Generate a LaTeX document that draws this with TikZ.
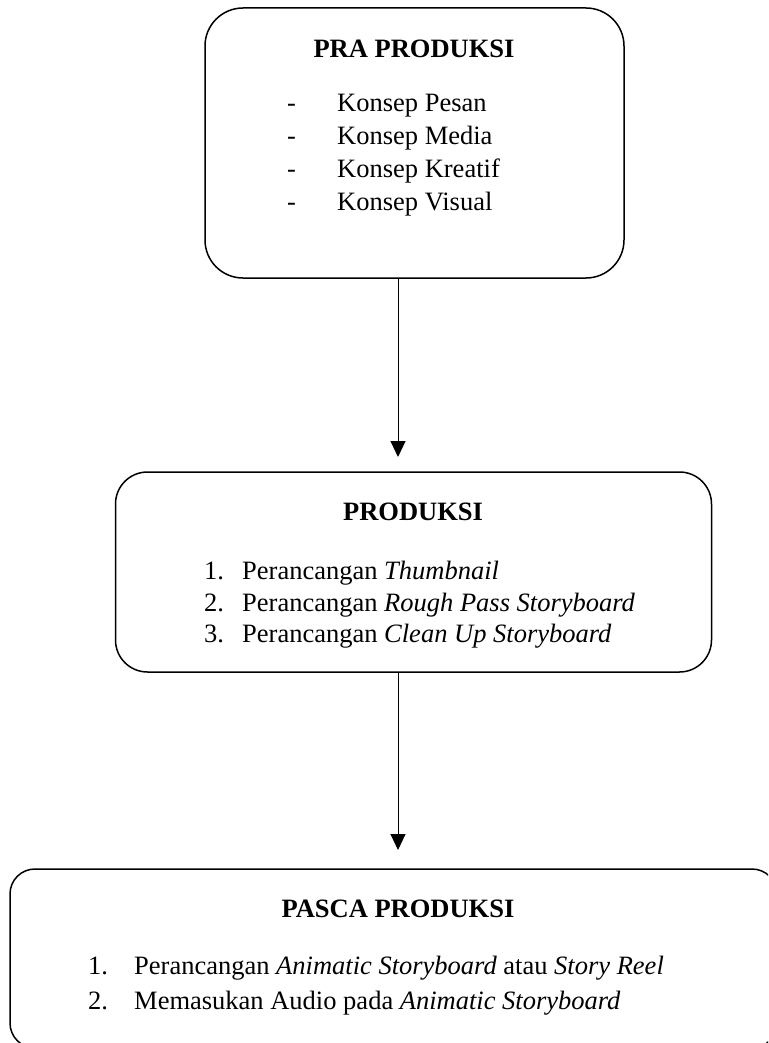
\documentclass[tikz,border=0pt]{standalone}
\usepackage{fontspec}
\setmainfont{Liberation Serif}
\usetikzlibrary{arrows.meta}
\tikzset{
  box/.style={draw, line width=1.5pt, inner sep=0pt},
  txt/.style={anchor=base west, inner sep=0pt, font=\fontsize{26.5}{33}\selectfont},
  ttl/.style={anchor=base, inner sep=0pt, font=\fontsize{26.5}{33}\selectfont\bfseries},
  arr/.style={line width=1pt, -{Triangle[width=15pt,length=16pt]}}
}
\begin{document}
\begin{tikzpicture}[x=1pt,y=-1pt]
\useasboundingbox (0,0) rectangle (768,1043);
\clip (0,0) rectangle (768,1043);
% boxes
\node[box, rounded corners=38pt, minimum width=419pt, minimum height=270pt] (b1) at (414.5,143) {};
\node[box, rounded corners=32pt, minimum width=596pt, minimum height=200pt] (b2) at (413.5,572) {};
\node[box, rounded corners=25pt, minimum width=767pt, minimum height=179pt] (b3) at (393.5,958.5) {};
% box 1 text
\node[ttl] (t1) at (414,58) {PRA PRODUKSI};
\node[txt] (d1) at (287,112) {-};
\node[txt] (i11) at (337,112) {Konsep Pesan};
\node[txt] (d2) at (287,145) {-};
\node[txt] (i12) at (337,145) {Konsep Media};
\node[txt] (d3) at (287,178) {-};
\node[txt] (i13) at (337,178) {Konsep Kreatif};
\node[txt] (d4) at (287,211) {-};
\node[txt] (i14) at (337,211) {Konsep Visual};
% box 2 text
\node[ttl] (t2) at (413,520) {PRODUKSI};
\node[txt] (n21) at (204,579) {1.};
\node[txt] (i21) at (242,579) {Perancangan \textit{Thumbnail}};
\node[txt] (n22) at (204,611) {2.};
\node[txt] (i22) at (242,611) {Perancangan \textit{Rough Pass Storyboard}};
\node[txt] (n23) at (204,642) {3.};
\node[txt] (i23) at (242,642) {Perancangan \textit{Clean Up Storyboard}};
% box 3 text
\node[ttl] (t3) at (398,917) {PASCA PRODUKSI};
\node[txt] (n31) at (88,974) {1.};
\node[txt] (i31) at (134,974) {Perancangan \textit{Animatic Storyboard} atau \textit{Story Reel}};
\node[txt] (n32) at (88,1009) {2.};
\node[txt] (i32) at (134,1009) {Memasukan Audio pada \textit{Animatic Storyboard}};
% arrows
\coordinate (e1) at (398,457);
\coordinate (e2) at (398,850);
\draw[arr] (b1.south -| e1) -- (e1);
\draw[arr] (b2.south -| e2) -- (e2);
\end{tikzpicture}
\end{document}
